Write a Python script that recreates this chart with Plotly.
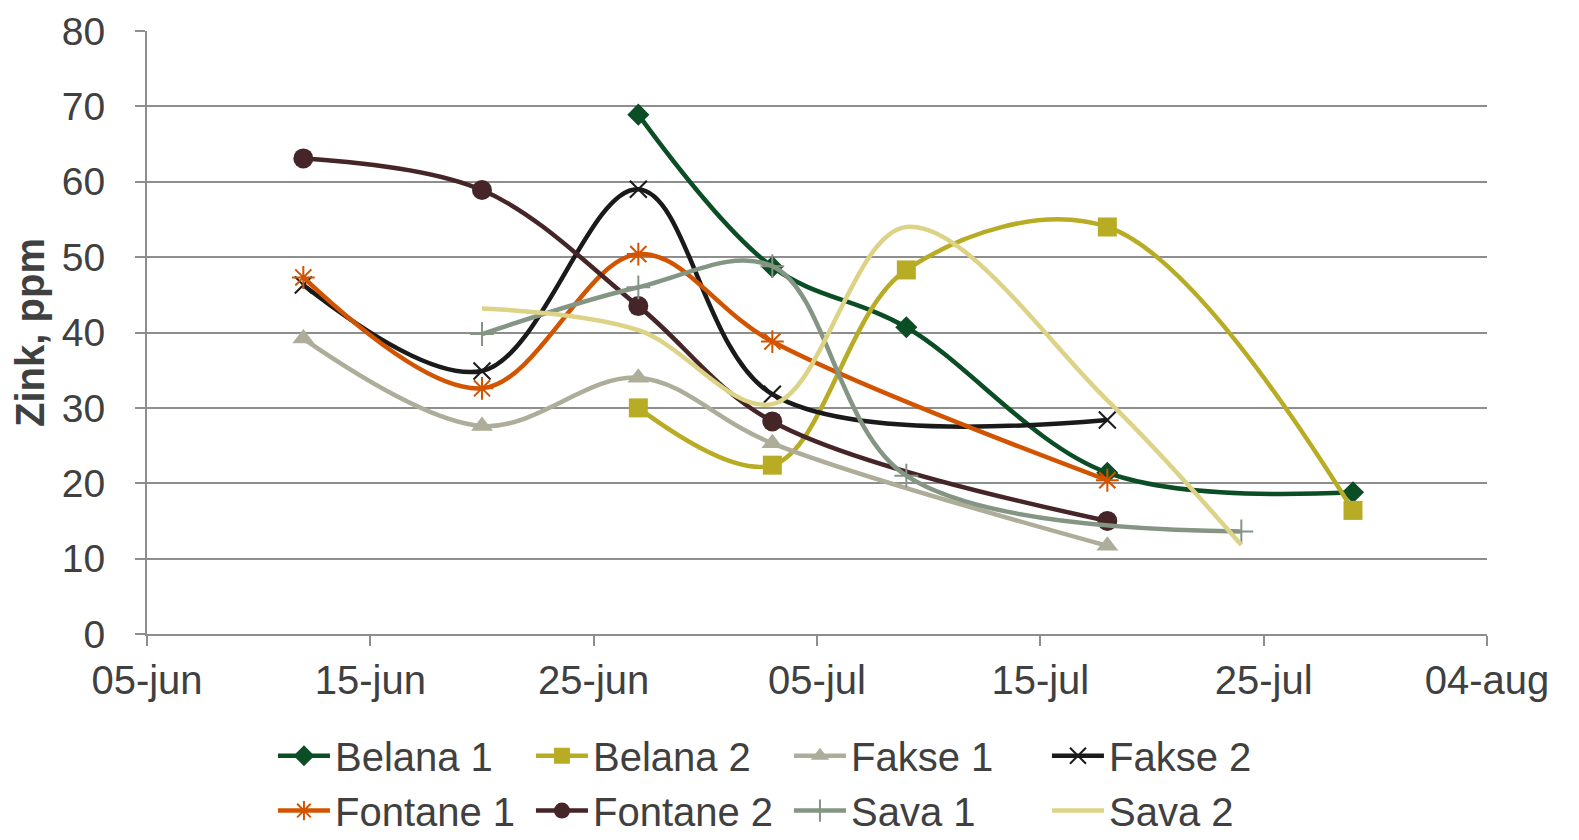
import plotly.graph_objects as go

# Zink in gewas per ras, per bemonsteringsdatum
serie_namen = ["Belana 1", "Belana 2", "Fakse 1", "Fakse 2",
               "Fontane 1", "Fontane 2", "Sava 1", "Sava 2"]

belana1_datum = ["2013-06-27", "2013-07-03", "2013-07-09", "2013-07-18", "2013-07-29"]
belana1_zink = [68.9, 48.7, 40.7, 21.4, 18.8]

belana2_datum = ["2013-06-27", "2013-07-03", "2013-07-09", "2013-07-18", "2013-07-29"]
belana2_zink = [30.0, 22.4, 48.3, 54.0, 16.4]

fakse1_datum = ["2013-06-12", "2013-06-20", "2013-06-27", "2013-07-03", "2013-07-18"]
fakse1_zink = [39.2, 27.6, 34.0, 25.3, 11.7]

fakse2_datum = ["2013-06-12", "2013-06-20", "2013-06-27", "2013-07-03", "2013-07-18"]
fakse2_zink = [46.3, 34.9, 59.0, 31.8, 28.4]

fontane1_datum = ["2013-06-12", "2013-06-20", "2013-06-27", "2013-07-03", "2013-07-18"]
fontane1_zink = [47.3, 32.6, 50.4, 38.8, 20.4]

fontane2_datum = ["2013-06-12", "2013-06-20", "2013-06-27", "2013-07-03", "2013-07-18"]
fontane2_zink = [63.1, 58.9, 43.5, 28.2, 15.0]

sava1_datum = ["2013-06-20", "2013-06-27", "2013-07-03", "2013-07-09", "2013-07-24"]
sava1_zink = [39.8, 46.0, 48.8, 21.0, 13.6]

sava2_datum = ["2013-06-20", "2013-06-27", "2013-07-03", "2013-07-09", "2013-07-18", "2013-07-24"]
sava2_zink = [43.2, 40.3, 30.5, 54.0, 31.0, 11.8]

x_tickwaarden = ["2013-06-05", "2013-06-15", "2013-06-25", "2013-07-05",
                 "2013-07-15", "2013-07-25", "2013-08-04"]
x_ticktekst = ["05-jun", "15-jun", "25-jun", "05-jul", "15-jul", "25-jul", "04-aug"]

datums = [belana1_datum, belana2_datum, fakse1_datum, fakse2_datum,
          fontane1_datum, fontane2_datum, sava1_datum, sava2_datum]
waarden = [belana1_zink, belana2_zink, fakse1_zink, fakse2_zink,
           fontane1_zink, fontane2_zink, sava1_zink, sava2_zink]

kleuren = ['#0B4D25', '#B8AC24', '#ADAD9A', '#1A1A1A',
           '#D35400', '#452527', '#849584', '#DCD387']
symbolen = ['diamond', 'square', 'triangle-up', 'x-thin-open',
            'asterisk-open', 'circle', 'cross-thin-open', None]
groottes = [17, 19, 19, 17, 19, 20, 17, 0]
legendes = ['legend'] * 4 + ['legend2'] * 4  # twee legendarijen van vier

tekstkleur = '#404040'
lettertype = 'Liberation Sans, Arial, sans-serif'

fig = go.Figure()
for naam, x, y, kleur, sym, grootte, leg in zip(serie_namen, datums, waarden,
                                                kleuren, symbolen, groottes, legendes):
    if sym is None:
        mode = 'lines'
        marker = dict()
    else:
        mode = 'lines+markers'
        marker = dict(symbol=sym, size=grootte, color=kleur,
                      line=dict(color=kleur, width=2 if 'open' in sym else 0))
    fig.add_trace(
        go.Scatter(
            name=naam,
            x=x,
            y=y,
            mode=mode,
            legend=leg,
            line=dict(color=kleur, width=4.5, shape='spline', smoothing=1),
            marker=marker
        )
    )

legenda_stijl = dict(
    orientation='h',
    x=0.094, xanchor='left',
    yanchor='top',
    font=dict(family=lettertype, size=40, color=tekstkleur),
    itemwidth=52,
    entrywidth=191,
    entrywidthmode='pixels',
    bgcolor='rgba(0,0,0,0)'
)

# pagina heeft 8px body-marge, daarom figuur iets kleiner
fig.update_layout(
    template='plotly_white',
    width=1571,
    height=832,
    margin=dict(l=139, r=92, t=23, b=206, autoexpand=False),
    paper_bgcolor='white',
    plot_bgcolor='white',
    font=dict(family=lettertype, size=40, color=tekstkleur),
    showlegend=True,
    legend=dict(legenda_stijl, y=-0.148),
    legend2=dict(legenda_stijl, y=-0.239)
)
fig.update_xaxes(
    type='date',
    range=["2013-06-05", "2013-08-04"],
    tickvals=x_tickwaarden,
    ticktext=x_ticktekst,
    showgrid=False,
    showline=True, linecolor='#8E8E8E', linewidth=2,
    ticks='outside', ticklen=10, tickwidth=2, tickcolor='#8E8E8E',
    ticklabeloverflow='allow',
    tickfont=dict(family=lettertype, size=40, color=tekstkleur),
    zeroline=False
)
fig.update_yaxes(
    range=[0, 80],
    dtick=10,
    showgrid=True, gridcolor='#8E8E8E', gridwidth=1.5,
    showline=True, linecolor='#8E8E8E', linewidth=2,
    ticks='outside', ticklen=10, tickwidth=2, tickcolor='#8E8E8E',
    ticklabelstandoff=22,
    ticklabeloverflow='allow',
    tickfont=dict(family=lettertype, size=39, color=tekstkleur),
    zeroline=False,
    title=dict(text="<b>Zink, ppm</b>", standoff=14,
               font=dict(family=lettertype, size=40, color=tekstkleur))
)
fig.write_html("out.html")
